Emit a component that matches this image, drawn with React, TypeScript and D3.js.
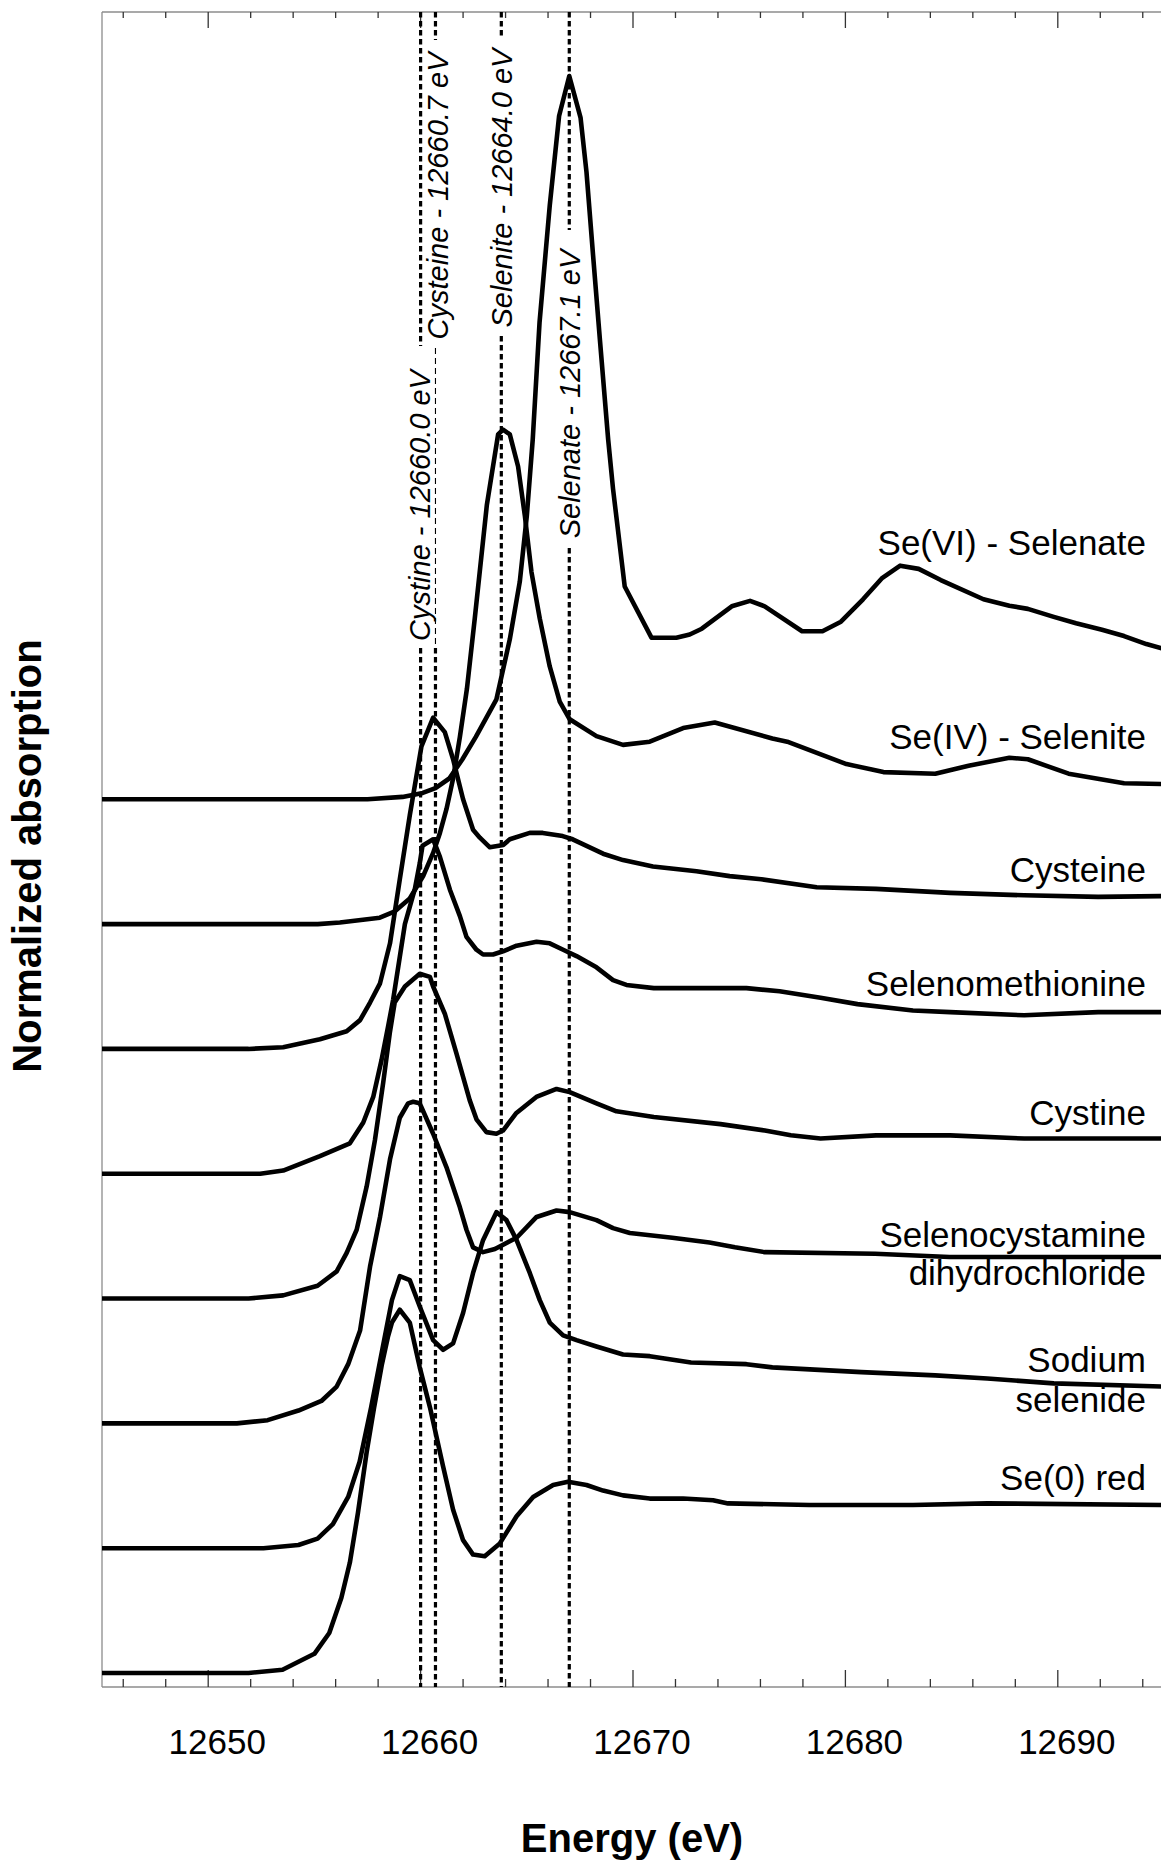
import React, { useEffect, useRef } from "react";
import * as d3 from "d3";

// Se K-edge XANES of selenium reference compounds (normalized, stacked)

const xMajorTicks = [12650, 12660, 12670, 12680, 12690];
const xMinorTicks = [
  12646, 12648, 12652, 12654, 12656, 12658, 12662, 12664, 12666, 12668, 12672,
  12674, 12676, 12678, 12682, 12684, 12686, 12688, 12692, 12694,
];

// bottom to top
const seriesLabelLines = [
  ["Se(0) red"],
  ["Sodium", "selenide"],
  ["Selenocystamine", "dihydrochloride"],
  ["Cystine"],
  ["Selenomethionine"],
  ["Cysteine"],
  ["Se(IV) - Selenite"],
  ["Se(VI) - Selenate"],
];

const guideEnergies = [12660.0, 12660.7, 12663.8, 12667.0];
const guideLabels = [
  "Cystine - 12660.0 eV",
  "Cysteine - 12660.7 eV",
  "Selenite - 12664.0 eV",
  "Selenate - 12667.1 eV",
];

// [energy (eV), normalized absorption]
const se0Red = [
  [12645, 0], [12651.9, 0], [12653.5, 0.02], [12655.0, 0.12], [12655.7, 0.25],
  [12656.27, 0.47], [12656.67, 0.69], [12657.05, 1.0], [12657.46, 1.38],
  [12657.8, 1.65], [12658.18, 1.93], [12658.46, 2.1], [12658.65, 2.19],
  [12659.02, 2.27], [12659.49, 2.19], [12659.96, 1.91], [12660.44, 1.66],
  [12661.06, 1.29], [12661.53, 1.02], [12662.0, 0.83], [12662.47, 0.74],
  [12663.02, 0.73], [12663.73, 0.81], [12664.52, 0.98], [12665.3, 1.1],
  [12666.24, 1.175], [12666.94, 1.195], [12667.81, 1.175], [12668.59, 1.14],
  [12669.53, 1.11], [12670.79, 1.09], [12672.36, 1.09], [12673.77, 1.08],
  [12674.47, 1.06], [12678.3, 1.05], [12683.18, 1.05], [12686.68, 1.06],
  [12695, 1.05],
];

const sodiumSelenide = [
  [12645, 0], [12652.6, 0], [12654.25, 0.02], [12655.15, 0.06], [12655.87, 0.15],
  [12656.59, 0.32], [12657.13, 0.54], [12657.67, 0.88], [12658.21, 1.25],
  [12658.65, 1.55], [12659.02, 1.7], [12659.49, 1.675], [12659.96, 1.51],
  [12660.59, 1.3], [12661.06, 1.24], [12661.53, 1.28], [12662.0, 1.47],
  [12662.47, 1.72], [12662.94, 1.925], [12663.57, 2.1], [12664.04, 2.05],
  [12664.52, 1.925], [12665.14, 1.72], [12665.61, 1.55], [12666.08, 1.41],
  [12666.71, 1.33], [12667.34, 1.3], [12668.28, 1.26], [12669.53, 1.21],
  [12670.79, 1.2], [12672.73, 1.16], [12675.34, 1.15], [12676.56, 1.13],
  [12680.75, 1.1], [12684.23, 1.08], [12686.68, 1.06], [12689.81, 1.03],
  [12695, 1.01],
];

const selenocystamine = [
  [12645, 0], [12651.35, 0], [12652.8, 0.02], [12654.25, 0.08], [12655.33, 0.14],
  [12656.05, 0.23], [12656.59, 0.37], [12657.15, 0.58], [12657.62, 0.98],
  [12658.09, 1.29], [12658.56, 1.65], [12659.02, 1.91], [12659.41, 2.0],
  [12659.65, 2.01], [12659.96, 2.0], [12660.59, 1.81], [12661.22, 1.6],
  [12661.85, 1.35], [12662.16, 1.21], [12662.47, 1.1], [12662.94, 1.07],
  [12663.5, 1.09], [12664.52, 1.16], [12665.46, 1.29], [12666.4, 1.33],
  [12667.02, 1.32], [12668.28, 1.27], [12669.06, 1.22], [12669.85, 1.19],
  [12671.85, 1.16], [12673.6, 1.13], [12674.8, 1.1], [12676.2, 1.07],
  [12681.4, 1.06], [12684.9, 1.04], [12695, 1.04],
];

const cystine = [
  [12645, 0], [12651.9, 0], [12653.53, 0.02], [12655.15, 0.08], [12656.05, 0.17],
  [12656.52, 0.285], [12656.99, 0.43], [12657.46, 0.7], [12657.85, 0.99],
  [12658.24, 1.35], [12658.55, 1.66], [12658.78, 1.85], [12659.26, 1.95],
  [12659.96, 2.03], [12660.44, 2.01], [12660.59, 1.95], [12661.14, 1.78],
  [12661.69, 1.53], [12662.31, 1.24], [12662.63, 1.12], [12663.1, 1.04],
  [12663.57, 1.03], [12663.88, 1.05], [12664.51, 1.16], [12665.45, 1.26],
  [12666.4, 1.31], [12667.02, 1.29], [12668.28, 1.22], [12669.22, 1.17],
  [12670.98, 1.135], [12674.12, 1.09], [12676.21, 1.05], [12677.43, 1.02],
  [12678.83, 1.0], [12681.44, 1.02], [12684.93, 1.02], [12688.42, 1.0],
  [12695, 1.0],
];

const selenomethionine = [
  [12645, 0], [12652.45, 0], [12653.53, 0.02], [12655.26, 0.11], [12656.67, 0.19],
  [12657.3, 0.32], [12657.77, 0.48], [12658.16, 0.71], [12658.47, 0.92],
  [12658.71, 1.09], [12659.26, 1.56], [12659.73, 1.78], [12659.96, 1.94],
  [12660.09, 2.05], [12660.59, 2.09], [12660.91, 1.98], [12661.38, 1.775],
  [12661.85, 1.61], [12662.16, 1.48], [12662.63, 1.4], [12662.94, 1.37],
  [12663.41, 1.37], [12663.88, 1.39], [12664.52, 1.425], [12665.46, 1.45],
  [12666.08, 1.44], [12666.71, 1.4], [12667.34, 1.36], [12668.28, 1.29],
  [12669.06, 1.21], [12669.69, 1.18], [12670.98, 1.16], [12675.34, 1.16],
  [12676.9, 1.14], [12678.83, 1.1], [12680.57, 1.06], [12683.18, 1.02],
  [12684.93, 1.01], [12688.42, 0.99], [12691.9, 1.01], [12695, 1.01],
];

const cysteine = [
  [12645, 0], [12651.9, 0], [12653.53, 0.01], [12655.26, 0.06], [12656.52, 0.11],
  [12657.15, 0.18], [12657.62, 0.29], [12658.09, 0.41], [12658.56, 0.66],
  [12659.02, 1.06], [12659.49, 1.46], [12660.04, 1.89], [12660.59, 2.07],
  [12661.14, 1.98], [12661.53, 1.81], [12662.0, 1.56], [12662.47, 1.37],
  [12662.79, 1.32], [12663.26, 1.26], [12663.89, 1.275], [12664.2, 1.31],
  [12665.14, 1.35], [12665.75, 1.35], [12666.69, 1.33], [12667.16, 1.31],
  [12668.59, 1.22], [12669.53, 1.18], [12670.94, 1.14], [12672.99, 1.11],
  [12674.55, 1.08], [12676.04, 1.06], [12678.65, 1.01], [12681.44, 1.0],
  [12684.93, 0.975], [12688.42, 0.96], [12691.9, 0.95], [12695, 0.955],
];

const selenite = [
  [12645, 0], [12655.16, 0], [12656.2, 0.01], [12658.08, 0.04], [12658.79, 0.08],
  [12659.49, 0.16], [12660.12, 0.3], [12660.59, 0.445], [12660.91, 0.57],
  [12661.22, 0.72], [12661.53, 0.91], [12661.85, 1.17], [12662.18, 1.47],
  [12662.55, 1.91], [12663.12, 2.62], [12663.65, 3.06], [12663.88, 3.09],
  [12664.2, 3.06], [12664.59, 2.86], [12664.91, 2.55], [12665.22, 2.2],
  [12665.61, 1.91], [12666.08, 1.61], [12666.55, 1.39], [12667.02, 1.28],
  [12668.28, 1.175], [12669.53, 1.12], [12670.79, 1.14], [12672.36, 1.225],
  [12673.85, 1.26], [12676.56, 1.16], [12677.26, 1.14], [12680.05, 1.0],
  [12681.79, 0.95], [12684.23, 0.94], [12685.8, 0.99], [12687.72, 1.04],
  [12688.59, 1.03], [12690.51, 0.94], [12693.12, 0.88], [12695, 0.875],
];

const selenate = [
  [12645, 0], [12657.5, 0], [12659.15, 0.015], [12660.1, 0.04], [12660.7, 0.07],
  [12661.35, 0.13], [12661.97, 0.25], [12662.6, 0.39], [12663.57, 0.625],
  [12664.2, 1.0], [12664.67, 1.36], [12665.0, 1.77], [12665.28, 2.25],
  [12665.6, 2.98], [12666.08, 3.71], [12666.52, 4.27], [12667.0, 4.52],
  [12667.53, 4.26], [12667.81, 3.92], [12668.12, 3.4], [12668.44, 2.875],
  [12668.83, 2.25], [12669.06, 1.94], [12669.61, 1.33], [12670.87, 1.01],
  [12672.04, 1.01], [12672.67, 1.03], [12673.24, 1.066], [12674.65, 1.206],
  [12675.51, 1.24], [12676.2, 1.206], [12677.96, 1.05], [12678.92, 1.05],
  [12679.79, 1.11], [12680.83, 1.25], [12681.71, 1.38], [12682.58, 1.46],
  [12683.45, 1.44], [12684.49, 1.37], [12686.5, 1.25], [12687.72, 1.21],
  [12688.59, 1.19], [12689.81, 1.14], [12690.86, 1.1], [12692.08, 1.06],
  [12693.12, 1.02], [12694.17, 0.97], [12695, 0.94],
];

const allSeries = [
  se0Red, sodiumSelenide, selenocystamine, cystine,
  selenomethionine, cysteine, selenite, selenate,
];
const OFFSET_STEP = 0.78;

// layout (pixels)
const W = 1161;
const H = 1865;
const plot = { left: 102, right: 1164, top: 12, bottom: 1687 };
const FONT = "'Liberation Sans', Arial, Helvetica, sans-serif";
const labelBaselines = [
  [1490], [1371.6, 1411.6], [1246.6, 1285.3], [1124.5], [996.3], [881.5], [748.7], [555],
];
// label centre, line gap, shift of rotated text
const guideLayout = [
  { cy: 505.5, gapTop: 346, gapBottom: 648, thinTo: null, dx: 9 },
  { cy: 196, gapTop: 40, gapBottom: 348, thinTo: 648, dx: 13 },
  { cy: 188, gapTop: 38, gapBottom: 336, thinTo: null, dx: 11 },
  { cy: 394, gapTop: 230, gapBottom: 548, thinTo: null, dx: 11 },
];

export default function App() {
  const ref = useRef<SVGSVGElement>(null);

  useEffect(() => {
    const svg = d3.select(ref.current);
    svg.selectAll("*").remove();

    const x = d3.scaleLinear().domain([12645, 12695]).range([plot.left, plot.right]);
    const y = d3.scaleLinear().domain([-0.0875, 10.38]).range([plot.bottom, plot.top]);

    svg.append("rect").attr("width", W).attr("height", H).attr("fill", "#fff");

    // frame
    const frame = svg.append("g").attr("stroke", "#8c8c8c").attr("stroke-width", 1.3);
    frame.append("line").attr("x1", plot.left).attr("x2", plot.left).attr("y1", plot.top).attr("y2", plot.bottom);
    frame.append("line").attr("x1", plot.left).attr("x2", plot.right).attr("y1", plot.top).attr("y2", plot.top);
    frame.append("line").attr("x1", plot.left).attr("x2", plot.right).attr("y1", plot.bottom).attr("y2", plot.bottom);
    frame.append("line").attr("x1", plot.right).attr("x2", plot.right).attr("y1", plot.top).attr("y2", plot.bottom);

    // ticks, pointing inward on bottom and top
    const ticks = svg.append("g").attr("stroke", "#333").attr("stroke-width", 1.3);
    const tickData = [
      ...xMajorTicks.map((v) => ({ v, major: true })),
      ...xMinorTicks.map((v) => ({ v, major: false })),
    ];
    ticks.selectAll(".tb").data(tickData).enter().append("line")
      .attr("x1", (d) => x(d.v)).attr("x2", (d) => x(d.v))
      .attr("y1", plot.bottom).attr("y2", (d) => plot.bottom - (d.major ? 17 : 8));
    ticks.selectAll(".tt").data(tickData).enter().append("line")
      .attr("x1", (d) => x(d.v)).attr("x2", (d) => x(d.v))
      .attr("y1", plot.top).attr("y2", (d) => plot.top + (d.major ? 16 : 6));

    svg.append("g").selectAll("text").data(xMajorTicks).enter().append("text")
      .attr("x", (d) => x(d) + 9).attr("y", 1754)
      .attr("text-anchor", "middle").attr("font-family", FONT).attr("font-size", 35)
      .text((d) => d);

    // guide lines at edge / white-line energies
    const guides = svg.append("g");
    guideEnergies.forEach((e, i) => {
      const gx = x(e);
      const L = guideLayout[i];
      const dotted = (y1: number, y2: number) =>
        guides.append("line").attr("x1", gx).attr("x2", gx).attr("y1", y1).attr("y2", y2)
          .attr("stroke", "#000").attr("stroke-width", 3.2).attr("stroke-dasharray", "5.5 3.5");
      dotted(plot.top, L.gapTop);
      if (L.thinTo) {
        guides.append("line").attr("x1", gx).attr("x2", gx).attr("y1", L.gapBottom).attr("y2", L.thinTo)
          .attr("stroke", "#000").attr("stroke-width", 1.1).attr("stroke-dasharray", "6 4");
        dotted(L.thinTo, plot.bottom);
      } else {
        dotted(L.gapBottom, plot.bottom);
      }
      guides.append("text")
        .attr("transform", `translate(${gx + L.dx},${L.cy}) rotate(-90)`)
        .attr("text-anchor", "middle").attr("font-family", FONT).attr("font-size", 29)
        .attr("font-style", "italic").text(guideLabels[i]);
    });

    // spectra
    allSeries.forEach((data, i) => {
      const line = d3.line<number[]>()
        .x((d) => x(d[0]))
        .y((d) => y(d[1] + i * OFFSET_STEP))
        .curve(d3.curveLinear);
      svg.append("path").datum(data).attr("d", line)
        .attr("fill", "none").attr("stroke", "#000").attr("stroke-width", 4.6)
        .attr("stroke-linejoin", "round");
    });

    // series labels
    const labels = svg.append("g").attr("font-family", FONT).attr("font-size", 35).attr("text-anchor", "end");
    seriesLabelLines.forEach((lines, i) => {
      lines.forEach((t, j) => {
        labels.append("text").attr("x", 1146).attr("y", labelBaselines[i][j]).text(t);
      });
    });

    // axis titles
    svg.append("text").attr("x", 632).attr("y", 1852).attr("text-anchor", "middle")
      .attr("font-family", FONT).attr("font-size", 40).attr("font-weight", "bold")
      .text("Energy (eV)");
    svg.append("text").attr("transform", "translate(41,856) rotate(-90)").attr("text-anchor", "middle")
      .attr("font-family", FONT).attr("font-size", 40).attr("font-weight", "bold")
      .text("Normalized absorption");
  }, []);

  return (
    <svg
      ref={ref}
      width={W}
      height={H}
      style={{ position: "absolute", left: 0, top: 0, display: "block" }}
    />
  );
}
